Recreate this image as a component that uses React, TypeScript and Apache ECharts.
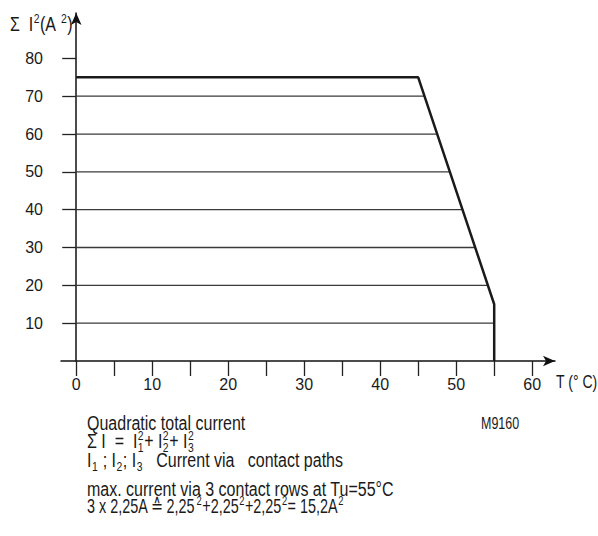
import React, { useEffect, useRef } from "react";
import * as echarts from "echarts";

const FONT = '"Liberation Sans", Arial, Helvetica, sans-serif';

// Data
const CURVE_T = [0, 45, 55, 55];
const CURVE_I2 = [75, 75, 15, 0];
const GRID_VALUES = [10, 20, 30, 40, 50, 60, 70];
const Y_TICKS = [10, 20, 30, 40, 50, 60, 70, 80];
const X_TICKS = [0, 5, 10, 15, 20, 25, 30, 35, 40, 45, 50, 55, 60];
const X_LABELS = [0, 10, 20, 30, 40, 50, 60];

type Part = string | { sup?: string; sub?: string };

let measureCtx: CanvasRenderingContext2D | null = null;
function textWidth(t: string, size: number, nar: number) {
  if (!measureCtx) measureCtx = document.createElement("canvas").getContext("2d");
  measureCtx!.font = `${size}px ${FONT}`;
  return measureCtx!.measureText(t).width * nar;
}

function txt(x: number, y: number, text: string, size: number, nar: number) {
  return {
    type: "text",
    x,
    y,
    scaleX: nar,
    style: { text, font: `${size}px ${FONT}`, fill: "#1a1a1a", verticalAlign: "middle" },
  };
}

function seq(x: number, y: number, parts: Part[], size: number, small: number, nar = 0.8) {
  const els: any[] = [];
  let cx = x;
  for (const p of parts) {
    if (typeof p === "string") {
      els.push(txt(cx, y, p, size, nar));
      cx += textWidth(p, size, nar);
    } else {
      let w = 0;
      if (p.sup) {
        els.push(txt(cx + 0.5, y - size * 0.3, p.sup, small, nar));
        w = Math.max(w, textWidth(p.sup, small, nar));
      }
      if (p.sub) {
        els.push(txt(cx + 0.5, y + size * 0.3, p.sub, small, nar));
        w = Math.max(w, textWidth(p.sub, small, nar));
      }
      cx += w + 1;
    }
  }
  return els;
}

function curveAt(v: number) {
  for (let i = 0; i < CURVE_T.length - 1; i++) {
    const a = CURVE_I2[i], b = CURVE_I2[i + 1];
    if (a === b) continue;
    if ((v <= a && v >= b) || (v >= a && v <= b)) {
      return CURVE_T[i] + ((v - a) / (b - a)) * (CURVE_T[i + 1] - CURVE_T[i]);
    }
  }
  return CURVE_T[CURVE_T.length - 1];
}

export default function App() {
  const ref = useRef<HTMLDivElement>(null);
  useEffect(() => {
    const chart = echarts.init(ref.current!, null, { renderer: "svg" });
    const gridSeries = GRID_VALUES.map((v) => ({
      type: "line",
      data: [[0, v], [curveAt(v), v]],
      symbol: "none",
      lineStyle: { color: "#3a3a3a", width: 1.3 },
      silent: true,
    }));
    const graphics: any[] = [
      ...seq(10, 24, ["Σ  I", { sup: "2" }, "(A ", { sup: "2" }, ")"], 20, 13, 0.8),
      ...seq(556, 381, ["T (° C)"], 18, 11, 0.78),
      ...seq(87, 423, ["Quadratic total current"], 20, 13),
      ...seq(481, 423, ["M9160"], 16, 10, 0.78),
      ...seq(87, 441, ["Σ I  =  I", { sup: "2", sub: "1" }, "+ I", { sup: "2", sub: "2" }, "+ I", { sup: "2", sub: "3" }], 20, 13),
      ...seq(87, 460, ["I", { sub: "1" }, " ; I", { sub: "2" }, "; I", { sub: "3" }, "   Current via   contact paths"], 20, 13),
      ...seq(87, 489, ["max. current via 3 contact rows at Tu=55°C"], 20, 13),
      ...seq(87, 506, ["3 x 2,25A ≙ 2,25", { sup: "2" }, "+2,25", { sup: "2" }, "+2,25", { sup: "2" }, "= 15,2A", { sup: "2" }], 20, 13, 0.72),
    ];
    chart.setOption({
      animation: false,
      grid: { left: 61, right: 43, top: 13, bottom: 175, containLabel: false },
      xAxis: {
        type: "value",
        min: -2,
        max: 63,
        splitLine: { show: false },
        axisLine: { show: true, onZero: true, lineStyle: { color: "#111", width: 1.5 }, symbol: ["none", "arrow"], symbolSize: [8, 12] },
        axisTick: { show: true, customValues: X_TICKS, length: 15, lineStyle: { color: "#222", width: 1.3 } },
        axisLabel: { customValues: X_LABELS, margin: 15, fontFamily: FONT, fontSize: 16, color: "#1a1a1a" },
      },
      yAxis: {
        type: "value",
        min: 0,
        max: 92,
        splitLine: { show: false },
        axisLine: { show: true, onZero: true, lineStyle: { color: "#111", width: 1.5 }, symbol: ["none", "arrow"], symbolSize: [8, 12] },
        axisTick: { show: true, customValues: Y_TICKS, length: 14, lineStyle: { color: "#222", width: 1.3 } },
        axisLabel: { customValues: Y_TICKS, margin: 18, fontFamily: FONT, fontSize: 16, color: "#1a1a1a" },
      },
      series: [
        ...gridSeries,
        {
          type: "line",
          data: CURVE_T.map((t, i) => [t, CURVE_I2[i]]),
          symbol: "none",
          lineStyle: { color: "#1a1a1a", width: 2.5 },
          silent: true,
          z: 5,
        },
      ],
      graphic: graphics,
    });
    return () => chart.dispose();
  }, []);
  return <div ref={ref} style={{ position: "fixed", left: 0, top: 0, width: 598, height: 536, background: "#fff" }} />;
}
